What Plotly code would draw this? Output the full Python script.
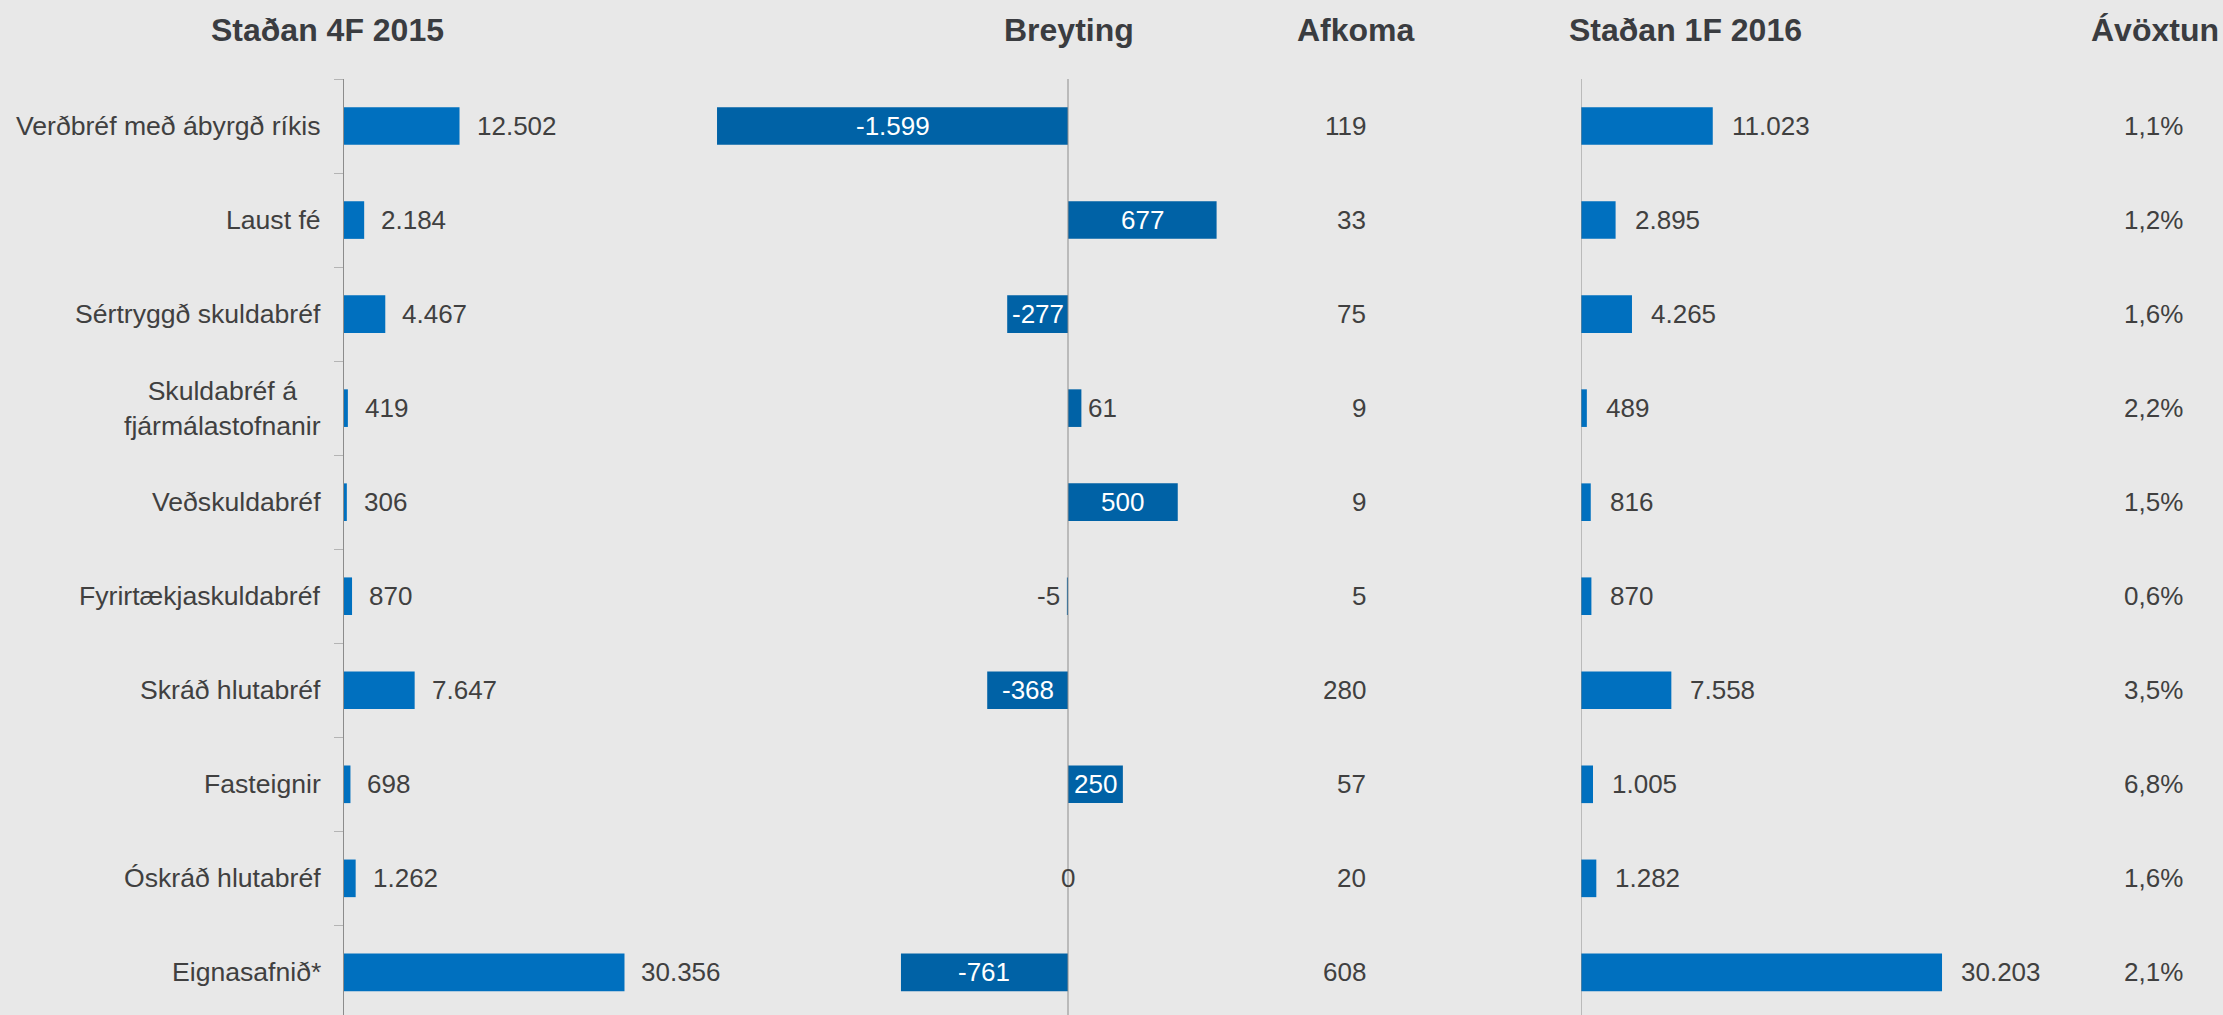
import plotly.graph_objects as go

W, H = 2223, 1015

categories = [
    "Verðbréf með ábyrgð ríkis",
    "Laust fé",
    "Sértryggð skuldabréf",
    "Skuldabréf á<br>fjármálastofnanir",
    "Veðskuldabréf",
    "Fyrirtækjaskuldabréf",
    "Skráð hlutabréf",
    "Fasteignir",
    "Óskráð hlutabréf",
    "Eignasafnið*",
]
stada_2015 = [12502, 2184, 4467, 419, 306, 870, 7647, 698, 1262, 30356]
breyting = [-1599, 677, -277, 61, 500, -5, -368, 250, 0, -761]
afkoma = [119, 33, 75, 9, 9, 5, 280, 57, 20, 608]
stada_2016 = [11023, 2895, 4265, 489, 816, 870, 7558, 1005, 1282, 30203]
avoxtun = [1.1, 1.2, 1.6, 2.2, 1.5, 0.6, 3.5, 6.8, 1.6, 2.1]
titles = ["Staðan 4F 2015", "Breyting", "Afkoma", "Staðan 1F 2016", "Ávöxtun"]

BG = "#e8e8e8"
BLUE1 = "#0070bf"
BLUE2 = "#0062a6"
TXT = "#404040"
TITLE = "#3a3c40"
AX = "#8c8c8c"
FONT = "Liberation Sans, Arial, sans-serif"
FS = 26
FS_CAT = 26.6
FS_TITLE = 32

TOP = 79
PLOT_H = H - TOP
PITCH = 94.04
y_hi = -0.5 + PLOT_H / PITCH

def fmt(v):
    return f"{v:,}".replace(",", ".")

# panel geometry (pixels)
p1_axis, p1_right, p1_scale = 344, 690, 0.00924
p2_left, p2_zero, p2_right, p2_scale = 700, 1068, 1250, 0.2195
p4_axis, p4_right, p4_scale = 1581, 2050, 0.011953

fig = go.Figure()
fig.add_trace(go.Bar(y=categories, x=stada_2015, orientation="h", width=0.4,
                     marker=dict(color=BLUE1, line_width=0), xaxis="x", yaxis="y"))
fig.add_trace(go.Bar(y=categories, x=breyting, orientation="h", width=0.4,
                     marker=dict(color=BLUE2, line_width=0), xaxis="x2", yaxis="y"))
fig.add_trace(go.Bar(y=categories, x=stada_2016, orientation="h", width=0.4,
                     marker=dict(color=BLUE1, line_width=0), xaxis="x3", yaxis="y"))

ann = []
# titles
title_x = [327, 1069, 1356, 1685, 2155]
for t, xp in zip(titles, title_x):
    ann.append(dict(text=f"<b>{t}</b>", x=xp / W, y=1 + (TOP - 30) / PLOT_H, xref="paper", yref="paper",
                    xanchor="center", yanchor="middle", showarrow=False,
                    font=dict(size=FS_TITLE, color=TITLE, family=FONT)))
# category labels
for c in categories:
    ann.append(dict(text=c, x=323 / W, y=c, xref="paper", yref="y", xanchor="right",
                    yanchor="middle", align="center", showarrow=False,
                    font=dict(size=FS_CAT, color=TXT, family=FONT)))
# panel 1 values
for c, v in zip(categories, stada_2015):
    ann.append(dict(text=fmt(v), x=v, y=c, xref="x", yref="y", xanchor="left", xshift=15,
                    yanchor="middle", showarrow=False, font=dict(size=FS, color=TXT, family=FONT)))
# panel 2 values
for c, v in zip(categories, breyting):
    if abs(v) >= 200:
        d = dict(x=v / 2, xanchor="center", xshift=0, color="white")
    elif v > 0:
        d = dict(x=v, xanchor="left", xshift=5, color=TXT)
    elif v < 0:
        d = dict(x=v, xanchor="right", xshift=-5, color=TXT)
    else:
        d = dict(x=v, xanchor="center", xshift=0, color=TXT)
    ann.append(dict(text=fmt(v), x=d["x"], y=c, xref="x2", yref="y", xanchor=d["xanchor"],
                    xshift=d["xshift"], yanchor="middle", showarrow=False,
                    font=dict(size=FS, color=d["color"], family=FONT)))
# afkoma
for c, v in zip(categories, afkoma):
    ann.append(dict(text=fmt(v), x=1368 / W, y=c, xref="paper", yref="y", xanchor="right",
                    yanchor="middle", showarrow=False, font=dict(size=FS, color=TXT, family=FONT)))
# panel 4 values
for c, v in zip(categories, stada_2016):
    ann.append(dict(text=fmt(v), x=v, y=c, xref="x3", yref="y", xanchor="left", xshift=17,
                    yanchor="middle", showarrow=False, font=dict(size=FS, color=TXT, family=FONT)))
# avoxtun
for c, v in zip(categories, avoxtun):
    ann.append(dict(text=f"{v:.1f}".replace(".", ",") + "%", x=2185 / W, y=c, xref="paper",
                    yref="y", xanchor="right", yanchor="middle", showarrow=False,
                    font=dict(size=FS, color=TXT, family=FONT)))

shapes = [
    dict(type="line", xref="x2", yref="paper", x0=0, x1=0, y0=0, y1=1,
         line=dict(color=AX, width=1), layer="above"),
    dict(type="line", xref="x3", yref="paper", x0=0, x1=0, y0=0, y1=1,
         line=dict(color=AX, width=1), layer="above"),
]

hidden = dict(visible=False, showgrid=False, zeroline=False, fixedrange=True)
fig.update_layout(
    width=W, height=H,
    margin=dict(l=0, r=0, t=TOP, b=0, pad=0),
    paper_bgcolor=BG, plot_bgcolor=BG,
    showlegend=False,
    barmode="overlay",
    hovermode=False,
    font=dict(family=FONT, size=FS, color=TXT),
    xaxis=dict(domain=[p1_axis / W, p1_right / W],
               range=[0, (p1_right - p1_axis) / p1_scale], anchor="y", **hidden),
    xaxis2=dict(domain=[p2_left / W, p2_right / W],
                range=[-(p2_zero - p2_left) / p2_scale, (p2_right - p2_zero) / p2_scale],
                anchor="y", **hidden),
    xaxis3=dict(domain=[p4_axis / W, p4_right / W],
                range=[0, (p4_right - p4_axis) / p4_scale], anchor="y", **hidden),
    yaxis=dict(type="category", categoryorder="array", categoryarray=categories,
               range=[y_hi, -0.5], anchor="x", showline=True, linecolor=AX, linewidth=1,
               ticks="outside", tickson="boundaries", ticklen=9, tickcolor="#b4b4b4",
               showticklabels=False, showgrid=False, zeroline=False, fixedrange=True),
    annotations=ann,
    shapes=shapes,
)

fig.write_html(
    "out.html",
    config={"displayModeBar": False, "staticPlot": True},
    post_script="document.body.style.margin='0';document.body.style.overflow='hidden';"
                "document.body.style.background='" + BG + "';",
)
